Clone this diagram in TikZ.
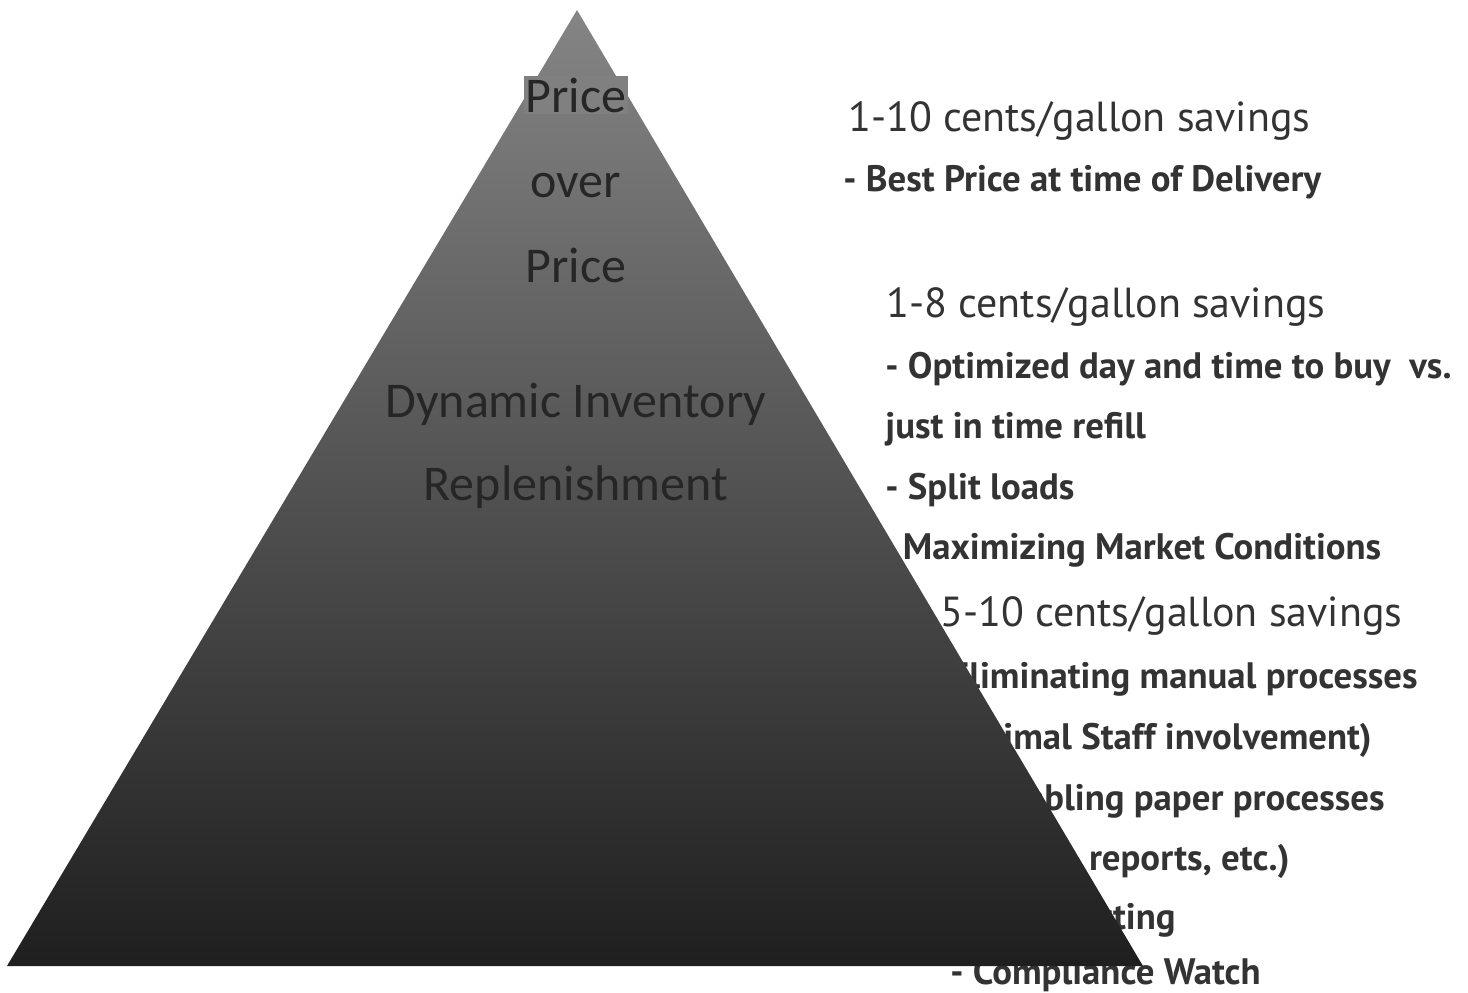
\documentclass[tikz,border=0pt]{standalone}
\usepackage{fontspec}
\setmainfont{PT Sans}
\newfontfamily\tierfont{Carlito}
\usepackage{tikz}
\usetikzlibrary{positioning}

\begin{document}
\begin{tikzpicture}[x=0.5pt, y=-0.5pt,
    head/.style={anchor=base west, inner sep=0pt, text=black!80, font=\fontsize{21}{25}\selectfont},
    item/.style={anchor=base west, inner sep=0pt, text=black!80, font=\fontsize{18.4}{22}\selectfont\bfseries},
    tier/.style={anchor=base, inner sep=1pt, text=black!85, font=\tierfont\fontsize{25}{30}\selectfont}]
    \useasboundingbox (0,0) rectangle (1468,992);
    \node[head] (sav1) at (848,131) {1-10 cents/gallon savings};
    \node[item] (best) at (843,191) {- Best Price at time of Delivery};
    \node[head] (sav2) at (886,317) {1-8 cents/gallon savings};
    \node[item] (optim) at (885,378) {- Optimized day and time to buy~~vs.};
    \node[item] (refill) at (885,438) {just in time refill};
    \node[item] (split) at (885,499) {- Split loads};
    \node[item] (market) at (880,559) {- Maximizing Market Conditions};
    \node[head] (sav3) at (940,626) {5-10 cents/gallon savings};
    \node[item, anchor=base east] (manual) at (1418,688) {- Eliminating manual processes};
    \node[item, anchor=base east] (staff) at (1372,749) {(Minimal Staff involvement)};
    \node[item, anchor=base east] (paper) at (1385,810) {- Disabling paper processes};
    \node[item, anchor=base east] (reports) at (1290,870) {(BOL's, reports, etc.)};
    \node[item, anchor=base east] (reporting) at (1176,929) {- Reporting};
    \node[item] (watch) at (950,984) {- Compliance Watch};
    \coordinate (apex) at (577,10);
    \coordinate (baseL) at (7,966);
    \coordinate (baseR) at (1143,966);
    \shade[top color=black!48, middle color=black!78, bottom color=black!88] (apex) -- (baseL) -- (baseR) -- cycle;
    \node[tier, fill=black!50] (price1) at (576,112) {Price};
    \node[tier] (over) at (576,197) {over};
    \node[tier] (price2) at (576,282) {Price};
    \node[tier] (dyn) at (576,417) {Dynamic Inventory};
    \node[tier] (repl) at (576,500) {Replenishment};
\end{tikzpicture}
\end{document}
